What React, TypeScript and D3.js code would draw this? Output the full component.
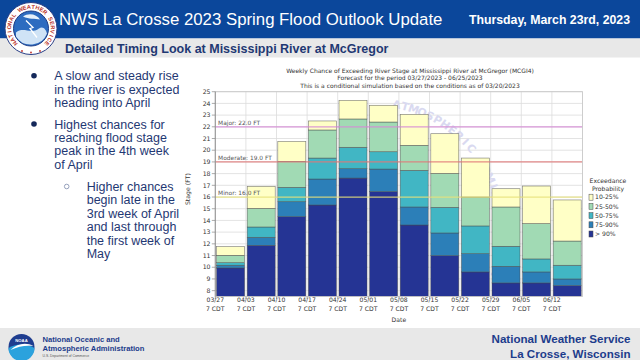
import React from 'react';
import * as d3 from 'd3';

// ---- data ----
const dates = ["03/27", "04/03", "04/10", "04/17", "04/24", "05/01", "05/08", "05/15", "05/22", "05/29", "06/05", "06/12"];
const dateSuffix = "7 CDT";
const p90 = [9.94, 11.87, 14.32, 15.32, 17.62, 16.46, 13.61, 10.99, 9.6, 8.66, 8.66, 8.43];
const p75 = [10.17, 12.56, 15.6, 17.54, 18.42, 18.39, 15.15, 12.93, 11.16, 10.08, 9.6, 9.0];
const p50 = [10.39, 13.44, 16.83, 19.33, 20.25, 19.87, 18.28, 15.12, 13.53, 11.79, 10.71, 10.17];
const p25 = [11.02, 15.03, 19.05, 21.73, 22.67, 22.41, 20.42, 18.02, 16.0, 15.15, 13.73, 12.24];
const p10 = [11.76, 16.91, 20.75, 22.5, 24.26, 23.84, 23.06, 21.41, 19.33, 16.71, 16.94, 15.75];
const seriesNames = ["> 90%", "75-90%", "50-75%", "25-50%", "10-25%"];
const seriesColors = ["#253494", "#2c7fb8", "#41b6c4", "#a1dab4", "#ffffc6"];
const floodNames = ["Major", "Moderate", "Minor"];
const floodValues = [22.0, 19.0, 16.0];
const floodColors = ["#d68ad6", "#e07878", "#e6e07a"];
const yTicks = d3.range(8, 26);
const chartTitle = [
  "Weekly Chance of Exceeding River Stage at Mississippi River at McGregor (MCGI4)",
  "Forecast for the period 03/27/2023 - 06/25/2023",
  "This is a conditional simulation based on the conditions as of 03/20/2023",
];
const bullet1 = ["A slow and steady rise", "in the river is expected", "heading into April"];
const bullet2 = ["Highest chances for", "reaching flood stage", "peak in the 4th week", "of April"];
const bullet3 = ["Higher chances", "begin late in the", "3rd week of April", "and last through", "the first week of", "May"];
const watermarkText = "ATMOSPHERIC ADMINISTRATION";
const logoRingText = "NATIONAL WEATHER SERVICE";

const SANS = "'Liberation Sans', Arial, Helvetica, sans-serif";
const DJ = "'DejaVu Sans', sans-serif";
const NAVY = "#1f3873";

function ArcLetters({ text, cx, cy, r, a0, step, size, fill, family }: any) {
  return (
    <g>
      {text.split('').map((ch: string, i: number) => {
        if (ch === ' ') return null;
        const a = a0 + i * step;
        const px = cx + r * Math.cos(a);
        const py = cy + r * Math.sin(a);
        const deg = (a + Math.PI / 2) * 180 / Math.PI;
        return (
          <text key={i} transform={`translate(${px.toFixed(2)},${py.toFixed(2)}) rotate(${deg.toFixed(1)})`}
            textAnchor="middle" fontFamily={family} fontSize={size} fontWeight="bold" fill={fill}>{ch}</text>
        );
      })}
    </g>
  );
}

export default function App() {
  const x = d3.scaleBand<string>().domain(dates).range([215.3, 582.5]).padding(0);
  const y = d3.scaleLinear().domain([7.5, 25]).range([296.5, 91.7]);
  const [x0, x1] = x.range();
  const [yb, yt] = y.range();
  const bw = x.bandwidth();
  const uppers = [p90, p75, p50, p25, p10];
  const lineH = 13.35;

  return (
    <svg width={640} height={360} viewBox="0 0 640 360" style={{ position: 'absolute', left: 0, top: 0, background: '#fff' }}>
      <defs>
        <clipPath id="plotClip"><rect x={x0} y={yt} width={x1 - x0} height={yb - yt} /></clipPath>
      </defs>

      {/* header */}
      <rect x={0} y={0} width={640} height={38.5} fill="#0b479b" />
      <rect x={0} y={38.5} width={640} height={19} fill="#e8e8e8" />
      <text x={59} y={24.5} fill="#fff" fontFamily={SANS} fontSize={16.8} fontWeight={500}>NWS La Crosse 2023 Spring Flood Outlook Update</text>
      <text x={630} y={23.5} fill="#fff" fontFamily={SANS} fontSize={12.3} fontWeight="bold" textAnchor="end">Thursday, March 23rd, 2023</text>
      <text x={65} y={53.2} fill={NAVY} fontFamily={SANS} fontSize={12.5} fontWeight="bold">Detailed Timing Look at Mississippi River at McGregor</text>

      {/* NWS logo */}
      <g transform="translate(31,28.5)">
        <circle r={26} fill="#fff" stroke="#2a3f86" strokeWidth={1} />
        <ArcLetters text={logoRingText} cx={0} cy={0} r={19.8} a0={Math.PI * 0.76} step={Math.PI * 1.48 / 23}
          size={5.6} fill="#b8342c" family={SANS} />
        <circle r={17.5} fill="#2d6cc0" stroke="#1d3c86" strokeWidth={1} />
        <path d="M-15,4 C-8,-2 0,6 8,0 C12,-3 15,1 16,5 A17.5,17.5 0 0 1 -15,8 Z" fill="#cfe3f6" />
        <path d="M-8,-12 C-2,-16 6,-14 9,-9 C4,-10 -2,-9 -8,-12 Z" fill="#e6f0fa" />
        <path d="M-5,-8 L2,-1 L-1,0 L6,9" stroke="#fff" strokeWidth={1.3} fill="none" />
        <circle cx={-9} cy={22.5} r={0.9} fill="#c0302a" />
        <circle cx={0} cy={24} r={0.9} fill="#c0302a" />
        <circle cx={9} cy={22.5} r={0.9} fill="#c0302a" />
      </g>

      {/* bullets */}
      <circle cx={34} cy={75.7} r={2.8} fill="#14285a" />
      {bullet1.map((t, i) => (
        <text key={'b1' + i} x={54.3} y={80.2 + i * lineH} fill={NAVY} fontFamily={SANS} fontSize={12.5}>{t}</text>
      ))}
      <circle cx={34} cy={124} r={2.8} fill="#14285a" />
      {bullet2.map((t, i) => (
        <text key={'b2' + i} x={54.3} y={128.5 + i * lineH} fill={NAVY} fontFamily={SANS} fontSize={12.5}>{t}</text>
      ))}
      <circle cx={66.7} cy={186.5} r={2.3} fill="none" stroke="#8a96b4" strokeWidth={0.9} />
      {bullet3.map((t, i) => (
        <text key={'b3' + i} x={86.7} y={191.1 + i * lineH} fill={NAVY} fontFamily={SANS} fontSize={12.5}>{t}</text>
      ))}

      {/* chart title */}
      {chartTitle.map((t, i) => (
        <text key={'t' + i} x={410} y={72.9 + i * 7.3} textAnchor="middle" fontFamily={DJ} fontSize={6} fill="#333">{t}</text>
      ))}

      {/* plot background + grid */}
      <rect x={x0} y={yt} width={x1 - x0} height={yb - yt} fill="#fff" />
      {yTicks.map(v => (
        <line key={'gy' + v} x1={x0} x2={x1} y1={y(v)} y2={y(v)} stroke="#dcdcdc" strokeWidth={0.8} />
      ))}
      {dates.map(d => (
        <line key={'gx' + d} x1={x(d)!} x2={x(d)!} y1={yt} y2={yb} stroke="#dcdcdc" strokeWidth={0.8} />
      ))}

      {/* watermark */}
      <g clipPath="url(#plotClip)">
        <ArcLetters text={watermarkText} cx={372} cy={232} r={126} a0={-1.38} step={0.068}
          size={11} fill="#d9d9f0" family={DJ} />
      </g>

      {/* bars */}
      {dates.map((d, i) => (
        <g key={'bar' + d}>
          {uppers.map((s, k) => {
            const lo = k === 0 ? y.domain()[0] : uppers[k - 1][i];
            const hi = s[i];
            return (
              <rect key={k} x={x(d)! + 1.3} width={bw - 2.6} y={y(hi)} height={y(lo) - y(hi)}
                fill={seriesColors[k]} stroke="#4a4a4a" strokeWidth={0.6} strokeOpacity={0.75} />
            );
          })}
        </g>
      ))}

      {/* flood lines */}
      {floodValues.map((v, i) => (
        <g key={'fl' + i}>
          <line x1={x0} x2={x1} y1={y(v)} y2={y(v)} stroke={floodColors[i]} strokeWidth={1.3} strokeOpacity={0.85} />
          <text x={x0 + 2.8} y={y(v) - 1.6} fontFamily={DJ} fontSize={5.9} fill="#555">{`${floodNames[i]}: ${v.toFixed(1)} FT`}</text>
        </g>
      ))}

      {/* plot frame */}
      <rect x={x0} y={yt} width={x1 - x0} height={yb - yt} fill="none" stroke="#c8c8c8" strokeWidth={0.9} />

      {/* y axis */}
      <line x1={x0} x2={x0} y1={yt} y2={yb} stroke="#888" strokeWidth={0.8} />
      {yTicks.map(v => (
        <g key={'yt' + v}>
          <line x1={x0 - 3.5} x2={x0} y1={y(v)} y2={y(v)} stroke="#888" strokeWidth={0.7} />
          <text x={x0 - 4.8} y={y(v) + 2.2} textAnchor="end" fontFamily={DJ} fontSize={6.2} fill="#333">{v}</text>
        </g>
      ))}
      <text transform={`translate(190,${(yt + yb) / 2 - 5}) rotate(-90)`} textAnchor="middle" fontFamily={DJ} fontSize={6.2} fill="#333">Stage (FT)</text>

      {/* x axis */}
      {dates.map(d => (
        <g key={'xt' + d}>
          <line x1={x(d)!} x2={x(d)!} y1={yb} y2={yb + 2.5} stroke="#888" strokeWidth={0.7} />
          <text x={x(d)!} y={302.3} textAnchor="middle" fontFamily={DJ} fontSize={6.1} fill="#333">{d}</text>
          <text x={x(d)!} y={310.6} textAnchor="middle" fontFamily={DJ} fontSize={6.1} fill="#333">{dateSuffix}</text>
        </g>
      ))}
      <text x={(x0 + x1) / 2} y={321.5} textAnchor="middle" fontFamily={DJ} fontSize={6.1} fill="#333">Date</text>

      {/* legend */}
      <text x={608} y={183} textAnchor="middle" fontFamily={DJ} fontSize={6.1} fill="#333">Exceedance</text>
      <text x={608} y={190.6} textAnchor="middle" fontFamily={DJ} fontSize={6.1} fill="#333">Probability</text>
      {seriesNames.slice().reverse().map((n, j) => {
        const k = seriesNames.length - 1 - j;
        const cy = 197.2 + j * 9.2;
        return (
          <g key={'lg' + n}>
            <rect x={589} y={cy - 3} width={4} height={6} fill={seriesColors[k]} stroke="#4a4a4a" strokeWidth={0.5} />
            <text x={595} y={cy + 2.2} fontFamily={DJ} fontSize={6.1} fill="#333">{n}</text>
          </g>
        );
      })}

      {/* footer */}
      <rect x={0} y={328} width={640} height={32} fill="#e8e8e8" />
      <g transform="translate(21.5,347)">
        <circle r={13} fill="#1f3d8f" />
        <path d="M-13,1 C-6,-3 3,-4 13,1 A13,13 0 0 1 -13,1 Z" fill="#2ba2dd" />
        <path d="M-11,3 C-4,-4 5,-5 12,-1 C5,-2 -3,-1 -11,3 Z" fill="#fff" />
        <text y={-5} textAnchor="middle" fontFamily={SANS} fontSize={4.2} fontWeight="bold" fill="#fff">NOAA</text>
      </g>
      <text x={42.5} y={341.5} fontFamily={SANS} fontSize={7.6} fontWeight="bold" fill="#1d3c8c">National Oceanic and</text>
      <text x={42.5} y={350.5} fontFamily={SANS} fontSize={7.6} fontWeight="bold" fill="#1d3c8c">Atmospheric Administration</text>
      <text x={42.5} y={356.8} fontFamily={SANS} fontSize={3.4} fill="#555">U.S. Department of Commerce</text>
      <text x={630.5} y={343} textAnchor="end" fontFamily={SANS} fontSize={11.6} fontWeight="bold" fill="#1d3c8c">National Weather Service</text>
      <text x={630.5} y={357.5} textAnchor="end" fontFamily={SANS} fontSize={11.6} fontWeight="bold" fill="#1d3c8c">La Crosse, Wisconsin</text>
    </svg>
  );
}
